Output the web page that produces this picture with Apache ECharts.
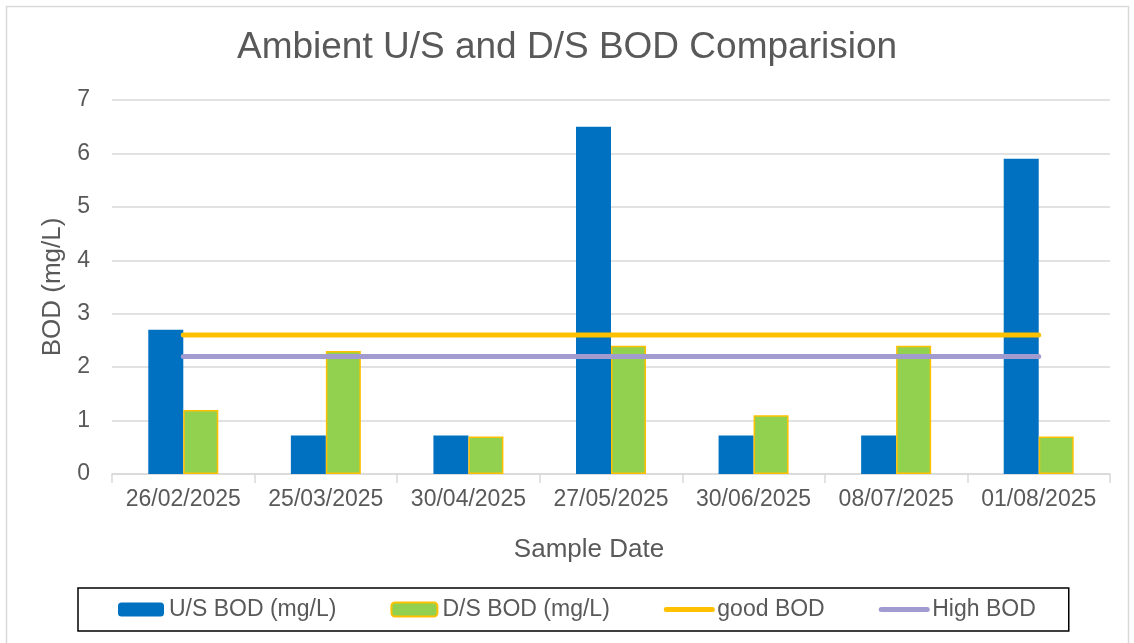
<!DOCTYPE html>
<html>
<head>
<meta charset="utf-8">
<script src="https://cdn.jsdelivr.net/npm/echarts@6/dist/echarts.min.js"></script>
<style>
html,body{margin:0;padding:0;background:#fff;}
#chart{width:1134px;height:643px;}
</style>
</head>
<body>
<div id="chart"></div>
<script>
const categories = ['26/02/2025','25/03/2025','30/04/2025','27/05/2025','30/06/2025','08/07/2025','01/08/2025'];
const usBOD = [2.7, 0.72, 0.72, 6.5, 0.72, 0.72, 5.9];
const dsBOD = [1.2, 2.3, 0.7, 2.4, 1.1, 2.4, 0.7];
const goodBOD = [2.6, 2.6, 2.6, 2.6, 2.6, 2.6, 2.6];
const highBOD = [2.2, 2.2, 2.2, 2.2, 2.2, 2.2, 2.2];
const yTicks = [0, 1, 2, 3, 4, 5, 6, 7];

const FONT = 'Liberation Sans, Arial, sans-serif';
const TXT = '#595959';
const YELLOW = '#FFC000', PURPLE = '#A29BCF';
const chart = echarts.init(document.getElementById('chart'), null, {renderer: 'canvas'});
chart.setOption({
  animation: false,
  backgroundColor: '#fff',
  textStyle: {fontFamily: FONT, color: TXT},
  graphic: [{
    type: 'rect', left: 4, top: 4, z: -10,
    shape: {width: 1122, height: 700},
    style: {fill: 'none', stroke: '#D9D9D9', lineWidth: 1.5}
  }],
  title: {
    text: 'Ambient U/S and D/S BOD Comparision',
    left: 'center', top: 24,
    textStyle: {fontFamily: FONT, fontSize: 37, fontWeight: 'normal', color: TXT}
  },
  legend: {
    left: 78, top: 588,
    padding: [10, 33, 10, 40],
    borderColor: '#000', borderWidth: 1.5,
    itemWidth: 46, itemHeight: 14, itemGap: 54,
    textStyle: {fontFamily: FONT, fontSize: 23, color: TXT},
    data: [
      {name: 'U/S BOD (mg/L)'},
      {name: 'D/S BOD (mg/L)'},
      {name: 'good BOD', itemStyle: {color: 'rgba(0,0,0,0)', borderWidth: 0, opacity: 0},
        lineStyle: {color: YELLOW, width: 5, cap: 'round'}},
      {name: 'High BOD', itemStyle: {color: 'rgba(0,0,0,0)', borderWidth: 0, opacity: 0},
        lineStyle: {color: PURPLE, width: 5, cap: 'round'}}
    ]
  },
  grid: {left: 112, right: 24, top: 100, bottom: 169, containLabel: false},
  xAxis: {
    type: 'category', data: categories,
    name: 'Sample Date', nameLocation: 'middle', nameGap: 63,
    nameTextStyle: {fontFamily: FONT, fontSize: 26, color: TXT, padding: [0, 44, 0, 0]},
    axisLine: {lineStyle: {color: '#D9D9D9', width: 1.5}},
    axisTick: {show: true, length: 9, lineStyle: {color: '#D9D9D9', width: 1.5}},
    axisLabel: {fontFamily: FONT, fontSize: 23, color: TXT, margin: 14, interval: 0}
  },
  yAxis: {
    type: 'value', min: 0, max: 7, interval: 1,
    name: 'BOD (mg/L)', nameLocation: 'middle', nameGap: 43, nameRotate: 90,
    nameTextStyle: {fontFamily: FONT, fontSize: 26, color: TXT},
    axisLine: {show: false}, axisTick: {show: false},
    axisLabel: {fontFamily: FONT, fontSize: 23, color: TXT, margin: 22,
      formatter: v => yTicks.includes(v) ? String(v) : ''},
    splitLine: {lineStyle: {color: '#D9D9D9', width: 1.5}}
  },
  series: [
    {name: 'U/S BOD (mg/L)', type: 'bar', data: usBOD, barWidth: 35, barGap: '0%',
      itemStyle: {color: '#0070C0'}},
    {name: 'D/S BOD (mg/L)', type: 'bar', data: dsBOD, barWidth: 35, barGap: '0%',
      itemStyle: {color: '#92D050', borderColor: YELLOW, borderWidth: 1.5}},
    {name: 'good BOD', type: 'line', data: goodBOD, symbol: 'none', z: 5,
      lineStyle: {color: YELLOW, width: 5, cap: 'round'}, itemStyle: {color: YELLOW}},
    {name: 'High BOD', type: 'line', data: highBOD, symbol: 'none', z: 5,
      lineStyle: {color: PURPLE, width: 5, cap: 'round'}, itemStyle: {color: PURPLE}}
  ]
});
</script>
</body>
</html>
